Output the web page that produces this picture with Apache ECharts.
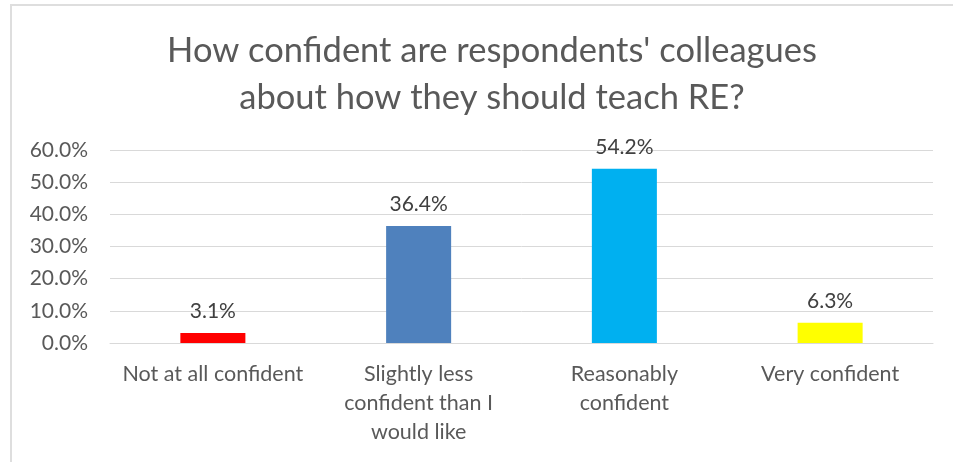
<!DOCTYPE html>
<html><head><meta charset="utf-8">
<script src="https://cdn.jsdelivr.net/npm/echarts@6/dist/echarts.min.js"></script>
<style>html,body{margin:0;padding:0;background:#fff}#c{width:953px;height:462px}</style>
</head><body><div id="c"></div>
<script>
const titleText = "How confident are respondents' colleagues\nabout how they should teach RE?";
const categories = ["Not at all confident", "Slightly less\nconfident than I\nwould like", "Reasonably\nconfident", "Very confident"];
const values = [3.1, 36.4, 54.2, 6.3];
const barColors = ["#ff0000", "#4f81bd", "#00b0f0", "#ffff00"];
const yTicks = [0, 10, 20, 30, 40, 50, 60];
const FONT = "Lato";
const chart = echarts.init(document.getElementById('c'));
chart.setOption({
  animation: false,
  backgroundColor: '#fff',
  graphic: [{type:'rect', shape:{x:11,y:5,width:1000,height:1000}, style:{fill:'none', stroke:'#dedede', lineWidth:2}, silent:true, z:-1}],
  title: {text: titleText, left: 487, textAlign: 'center', top: 22,
    textStyle: {fontFamily: FONT, fontSize: 34.5, fontWeight: 'normal', color: '#595959', lineHeight: 47}},
  grid: {left: 110, right: 20, top: 150, bottom: 119, containLabel: false},
  xAxis: {type: 'category', data: categories,
    axisLine: {lineStyle: {color: '#d9d9d9', width: 1}}, axisTick: {show: false},
    axisLabel: {interval: 0, fontFamily: FONT, fontSize: 21.5, color: '#595959', lineHeight: 29, margin: 17}},
  yAxis: {type: 'value', min: yTicks[0], max: yTicks[yTicks.length-1], interval: 10,
    axisLine: {show: false}, axisTick: {show: false},
    splitLine: {lineStyle: {color: '#d9d9d9', width: 1}},
    axisLabel: {formatter: v => v.toFixed(1) + '%', fontFamily: FONT, fontSize: 21, color: '#595959', margin: 22}},
  series: [{type: 'bar', barWidth: '31.6%',
    data: values.map((v, i) => ({value: v, itemStyle: {color: barColors[i]}})),
    label: {show: true, position: 'top', distance: 11, formatter: p => p.value.toFixed(1) + '%',
      fontFamily: FONT, fontSize: 21, color: '#404040'}}]
});
</script></body></html>
